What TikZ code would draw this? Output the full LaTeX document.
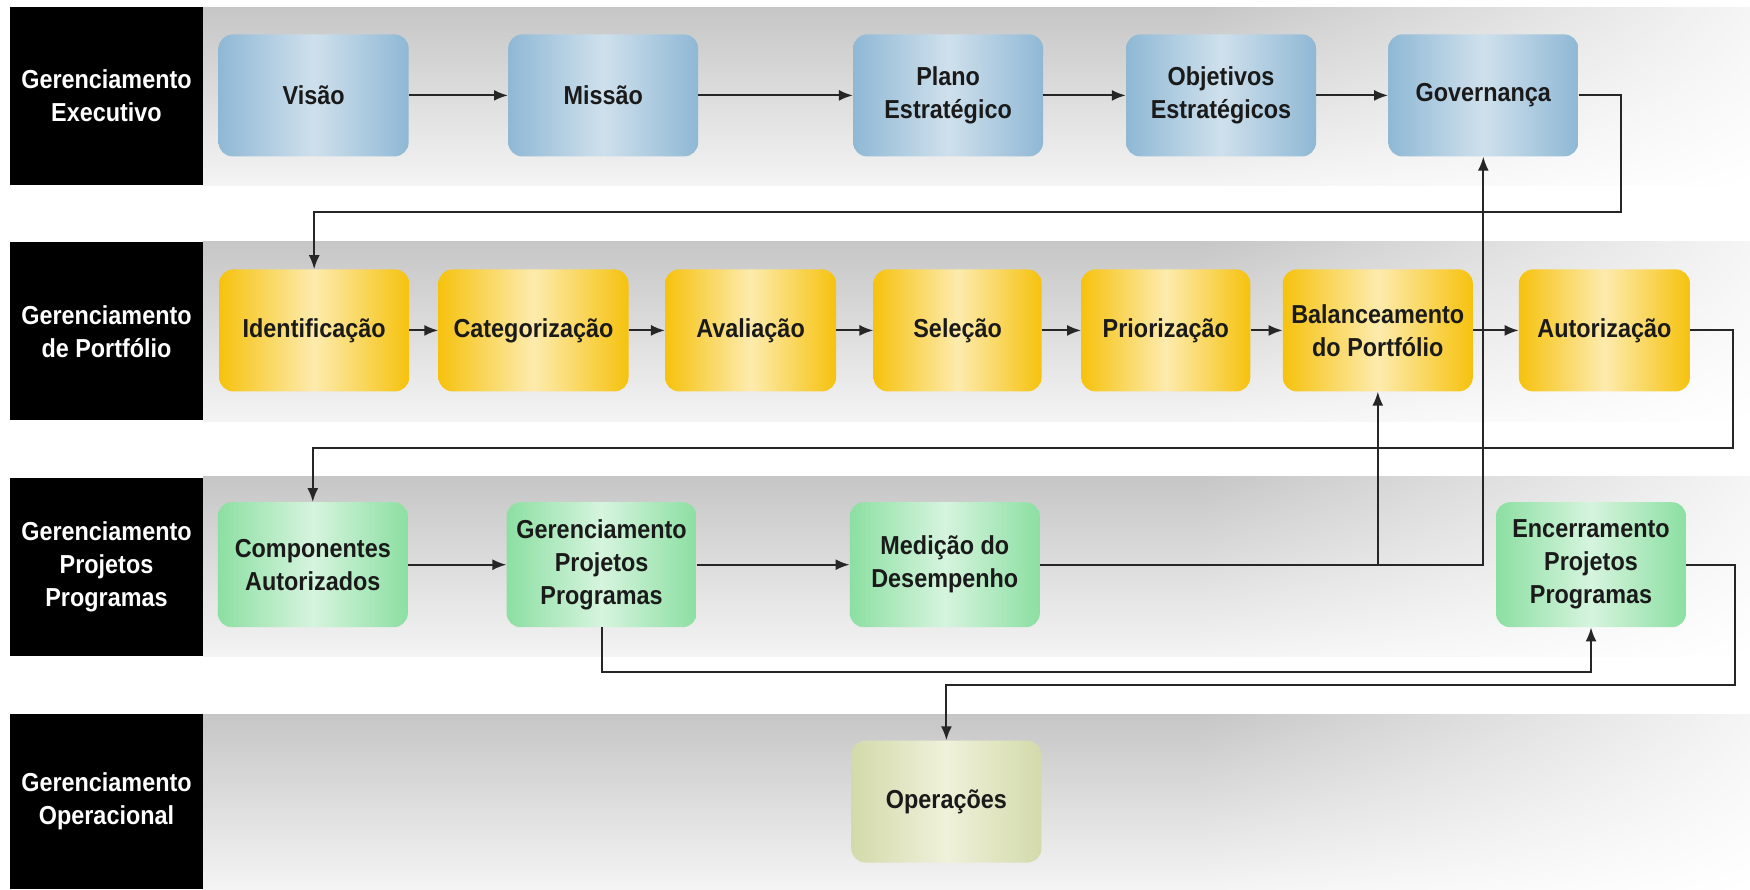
\documentclass[tikz,border=0pt]{standalone}
\usepackage{fontspec}
\setmainfont{Liberation Sans}[FakeStretch=0.9]
\usetikzlibrary{arrows.meta,shadings}
\definecolor{bEdge}{HTML}{8FB8D5}
\definecolor{bMid}{HTML}{CFE0EC}
\definecolor{yEdge}{HTML}{F6C20E}
\definecolor{yMid}{HTML}{FDEBAE}
\definecolor{gEdge}{HTML}{8CDFA2}
\definecolor{gMid}{HTML}{D6F4DE}
\definecolor{oEdge}{HTML}{D3DAAA}
\definecolor{oMid}{HTML}{EFF1DA}
\definecolor{bandTop}{HTML}{C6C6C6}
\definecolor{bandBot}{HTML}{F4F4F4}
\definecolor{txt}{HTML}{1A1A1A}
\tikzset{
  lbl/.style={font=\fontsize{26}{33}\selectfont\bfseries},
  box/.style={lbl, rounded corners=14pt, inner sep=0pt, align=center, text=txt,
              minimum width=190pt, minimum height=122pt},
  bluebox/.style={box, left color=bEdge, right color=bEdge, middle color=bMid},
  yelbox/.style={box, left color=yEdge, right color=yEdge, middle color=yMid},
  grnbox/.style={box, left color=gEdge, right color=gEdge, middle color=gMid},
  opbox/.style={box, left color=oEdge, right color=oEdge, middle color=oMid},
  lanelabel/.style={lbl, fill=black, text=white, align=center, inner sep=0pt,
              minimum width=193pt, minimum height=178pt},
  conn/.style={draw=black!85, line width=2pt, -{Latex[length=14pt,width=11pt]}},
}
\begin{document}
\begin{tikzpicture}[x=1pt,y=-1pt]
\useasboundingbox (0,0) rectangle (1750,889);
\fill[white] (0,0) rectangle (1750,889);
% lane bands
\foreach \t/\b in {7/185, 241.7/421, 476.7/656.7, 714/889}{
  \shade[top color=bandTop, bottom color=bandBot] (203,\t) rectangle (1200.5,\b);
  \shade[upper left=bandTop, lower left=bandBot, upper right=white!96!black, lower right=white]
     (1200,\t) rectangle (1750,\b);
}
% lane labels
\node[lanelabel] (l1) at (106.5,96) {Gerenciamento\\Executivo};
\node[lanelabel] (l2) at (106.5,331.35) {Gerenciamento\\de Portfólio};
\node[lanelabel] (l3) at (106.5,566.7) {Gerenciamento\\Projetos\\Programas};
\node[lanelabel, minimum height=175pt] (l4) at (106.5,801.5) {Gerenciamento\\Operacional};
% row 1
\node[bluebox] (vis) at (313.6,95.4) {Visão};
\node[bluebox] (mis) at (603.2,95.4) {Missão};
\node[bluebox] (pla) at (948.1,95.4) {Plano\\Estratégico};
\node[bluebox] (obj) at (1221,95.4) {Objetivos\\Estratégicos};
\node[bluebox] (gov) at (1483.3,95.4) {Governança};
% row 2
\node[yelbox] (ide) at (314.2,330.4) {Identificação};
\node[yelbox] (cat) at (533.5,330.4) {Categorização};
\node[yelbox, minimum width=171pt] (ava) at (750.6,330.4) {Avaliação};
\node[yelbox, minimum width=168pt] (sel) at (957.6,330.4) {Seleção};
\node[yelbox, minimum width=169pt] (pri) at (1165.8,330.4) {Priorização};
\node[yelbox] (bal) at (1377.8,330.4) {Balanceamento\\do Portfólio};
\node[yelbox, minimum width=171pt] (aut) at (1604.4,330.4) {Autorização};
% row 3
\node[grnbox, minimum height=125pt] (com) at (312.8,564.7) {Componentes\\Autorizados};
\node[grnbox, minimum height=125pt] (gpp) at (601.6,564.7) {Gerenciamento\\Projetos\\Programas};
\node[grnbox, minimum height=125pt] (med) at (944.8,564.7) {Medição do\\Desempenho};
\node[grnbox, minimum height=125pt] (enc) at (1591,564.7) {Encerramento\\Projetos\\Programas};
% row 4
\node[opbox] (ope) at (946.4,801.5) {Operações};
% routing points
\coordinate (g1) at (1621,212);
\coordinate (a1) at (1733,447.7);
\coordinate (p1) at (1591,672);
\coordinate (e1) at (1735,685);
% connectors row 1
\draw[conn] (vis) -- (mis);
\draw[conn] (mis) -- (pla);
\draw[conn] (pla) -- (obj);
\draw[conn] (obj) -- (gov);
\draw[conn] (gov.east) -| (g1) -| (ide.north);
% row 2
\draw[conn] (ide) -- (cat);
\draw[conn] (cat) -- (ava);
\draw[conn] (ava) -- (sel);
\draw[conn] (sel) -- (pri);
\draw[conn] (pri) -- (bal);
\draw[conn] (bal) -- (aut);
\draw[conn] (aut.east) -| (a1) -| (com.north);
% row 3
\draw[conn] (com) -- (gpp);
\draw[conn] (gpp) -- (med);
\draw[conn] (med.east) -| (bal.south);
\draw[conn] (med.east) -| (gov.south);
\draw[conn] (gpp.south) |- (p1) -- (enc.south);
\draw[conn] (enc.east) -| (e1) -| (ope.north);
\end{tikzpicture}
\end{document}
